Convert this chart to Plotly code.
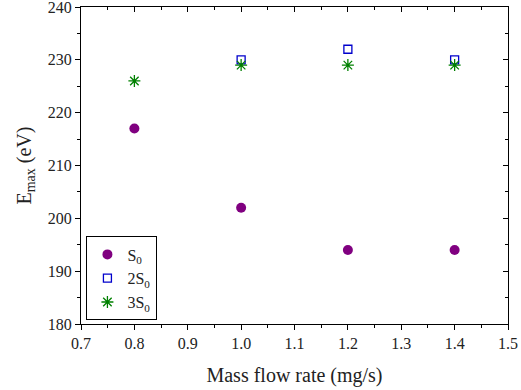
import plotly.graph_objects as go

x_s0 = [0.8, 1.0, 1.2, 1.4]
y_s0 = [217, 202, 194, 194]
x_2s0 = [1.0, 1.2, 1.4]
y_2s0 = [230, 232, 230]
x_3s0 = [0.8, 1.0, 1.2, 1.4]
y_3s0 = [226, 229, 229, 229]

x_ticks = [0.7, 0.8, 0.9, 1.0, 1.1, 1.2, 1.3, 1.4, 1.5]
x_labels = ["0.7", "0.8", "0.9", "1.0", "1.1", "1.2", "1.3", "1.4", "1.5"]
y_ticks = [180, 190, 200, 210, 220, 230, 240]

font = "Liberation Serif, Times New Roman, serif"

fig = go.Figure()
fig.add_trace(go.Scatter(x=x_s0, y=y_s0, mode="markers", name="S<sub>0</sub>",
                         marker=dict(symbol="circle", size=10, color="#800080")))
fig.add_trace(go.Scatter(x=x_2s0, y=y_2s0, mode="markers", name="2S<sub>0</sub>",
                         marker=dict(symbol="square-open", size=8, color="#0000CC",
                                     line=dict(width=1.3, color="#0000CC"))))
fig.add_trace(go.Scatter(x=x_3s0, y=y_3s0, mode="markers", name="3S<sub>0</sub>",
                         marker=dict(symbol="asterisk-open", size=10, color="#008000",
                                     line=dict(width=1.3, color="#008000"))))
# helper trace for mirrored axes
fig.add_trace(go.Scatter(x=[0.7], y=[180], xaxis="x2", yaxis="y2", mode="markers",
                         marker=dict(opacity=0), showlegend=False, hoverinfo="skip"))

axis_common = dict(showgrid=False, zeroline=False, showline=True, linecolor="black",
                   linewidth=1.3, tickcolor="black", ticklen=5, tickwidth=1.3,
                   automargin=False, ticklabeloverflow="allow",
                   tickfont=dict(family=font, size=16, color="#222"))

fig.update_layout(
    width=521, height=390,
    margin=dict(l=81, r=13, t=7, b=66),
    plot_bgcolor="white", paper_bgcolor="white",
    font=dict(family=font, color="#222"),
    xaxis=dict(range=[0.7, 1.5], tickvals=x_ticks, ticktext=x_labels, ticks="outside",
               minor=dict(dtick=0.05, ticks="outside", ticklen=3, tickcolor="black"),
               title=dict(text="Mass flow rate (mg/s)", font=dict(family=font, size=20), standoff=16),
               **axis_common),
    yaxis=dict(range=[180, 240], tickvals=y_ticks, ticks="outside",
               minor=dict(dtick=5, ticks="outside", ticklen=3, tickcolor="black"),
               title=dict(text="E<sub>max</sub> (eV)", font=dict(family=font, size=20), standoff=10),
               **axis_common),
    xaxis2=dict(range=[0.7, 1.5], overlaying="x", side="top", tickvals=x_ticks, ticks="inside",
                showticklabels=False,
                minor=dict(dtick=0.05, ticks="inside", ticklen=3, tickcolor="black"),
                **axis_common),
    yaxis2=dict(range=[180, 240], overlaying="y", side="right", tickvals=y_ticks, ticks="inside",
                showticklabels=False,
                minor=dict(dtick=5, ticks="inside", ticklen=3, tickcolor="black"),
                **axis_common),
    legend=dict(x=0.012, y=0.012, xanchor="left", yanchor="bottom",
                bordercolor="black", borderwidth=1.3, bgcolor="white",
                font=dict(family=font, size=16), tracegroupgap=0, itemwidth=30),
)

fig.write_html("out.html", post_script="document.body.style.margin='0';",
               config={"displayModeBar": False})
